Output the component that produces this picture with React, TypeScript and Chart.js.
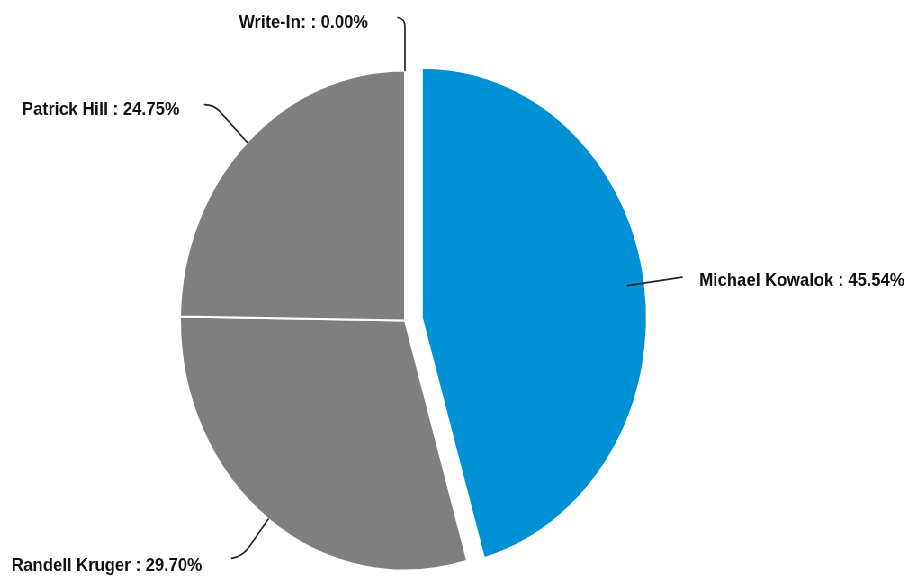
import { useEffect, useRef } from "react";
import { Chart, registerables } from "chart.js";

Chart.register(...registerables);

// ---- data ----
const categories = ["Michael Kowalok", "Randell Kruger", "Patrick Hill", "Write-In:"];
const shares = [45.54, 29.7, 24.75, 0.0];
const sliceColors = ["#0090d6", "#7f7f7f", "#7f7f7f", "#7f7f7f"];

// ---- layout ----
const SCALE_X = 0.9;
const CANVAS_W = 1014;
const CANVAS_H = 577;
const RADIUS = 250;
const EXPLODE = [19, 0, 0, 0];

// connector / label layout per slice (canvas units, before the horizontal squeeze)
const labelLayout = [
  { len: 61, hx: 0, hy: 0, gap: 19, dy: 4, side: 1 },
  { len: 47, hx: -12, hy: 2, gap: 33, dy: 7.5, side: -1 },
  { len: 53, hx: -10, hy: 0, gap: 28, dy: 5, side: -1 },
  { len: 52, hx: -8, hy: -1, gap: 33, dy: 5, side: -1 },
];

const explodePlugin = {
  id: "explodeSlices",
  afterUpdate(chart: any) {
    const meta = chart.getDatasetMeta(0);
    meta.data.forEach((arc: any, i: number) => {
      const off = EXPLODE[i] || 0;
      if (!off) return;
      const half = (arc.startAngle + arc.endAngle) / 2;
      arc.x += Math.cos(half) * off;
      arc.y += Math.sin(half) * off;
    });
  },
};

const labelPlugin = {
  id: "outerLabels",
  afterDatasetsDraw(chart: any) {
    const ctx = chart.ctx as CanvasRenderingContext2D;
    const meta = chart.getDatasetMeta(0);
    const ca = chart.chartArea;
    const cx = (ca.left + ca.right) / 2;
    const cy = (ca.top + ca.bottom) / 2;
    ctx.save();
    meta.data.forEach((arc: any, i: number) => {
      const L = labelLayout[i];
      const mid = (arc.startAngle + arc.endAngle) / 2;
      const r = arc.outerRadius;
      const ux = Math.cos(mid);
      const uy = Math.sin(mid);
      const sx = cx + ux * r;
      const sy = cy + uy * r;
      const bx = cx + ux * (r + L.len);
      const by = cy + uy * (r + L.len);
      const tx = bx + L.hx;
      const ty = by + L.hy;
      const hookLen = Math.hypot(L.hx, L.hy);
      ctx.beginPath();
      ctx.strokeStyle = "#262626";
      ctx.lineWidth = 1.7;
      ctx.lineCap = "round";
      ctx.moveTo(sx, sy);
      if (hookLen > 0) {
        const ax = bx - ux * hookLen;
        const ay = by - uy * hookLen;
        ctx.lineTo(ax, ay);
        ctx.quadraticCurveTo(bx, by, tx, ty);
      } else {
        ctx.lineTo(bx, by);
      }
      ctx.stroke();

      const text = `${categories[i]} : ${shares[i].toFixed(2)}%`;
      ctx.font = "bold 18.5px 'Liberation Sans', Arial, sans-serif";
      ctx.fillStyle = "#111111";
      ctx.textBaseline = "middle";
      ctx.textAlign = L.side > 0 ? "left" : "right";
      ctx.fillText(text, tx + L.gap * L.side, ty + L.dy);
    });
    ctx.restore();
  },
};

export default function App() {
  const canvasRef = useRef<HTMLCanvasElement | null>(null);

  useEffect(() => {
    const canvas = canvasRef.current;
    if (!canvas) return;
    const chart = new Chart(canvas, {
      type: "pie",
      data: {
        labels: categories,
        datasets: [
          {
            data: shares,
            backgroundColor: sliceColors,
            borderColor: "#ffffff",
            borderWidth: 2,
          },
        ],
      },
      options: {
        responsive: false,
        animation: false,
        events: [],
        radius: RADIUS,
        layout: { padding: { left: 0, right: CANVAS_W - 900, top: 64, bottom: 0 } },
        plugins: {
          legend: { display: false },
          tooltip: { enabled: false },
        },
      } as any,
      plugins: [explodePlugin, labelPlugin],
    });
    return () => chart.destroy();
  }, []);

  return (
    <div
      style={{
        position: "fixed",
        left: 0,
        top: 0,
        width: CANVAS_W,
        height: CANVAS_H,
        transform: `scaleX(${SCALE_X})`,
        transformOrigin: "0 0",
        background: "#ffffff",
      }}
    >
      <canvas
        ref={canvasRef}
        width={CANVAS_W}
        height={CANVAS_H}
        style={{ width: CANVAS_W, height: CANVAS_H, display: "block" }}
      />
    </div>
  );
}
